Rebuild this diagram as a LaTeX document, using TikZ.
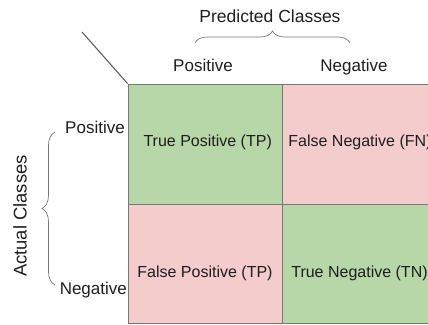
\documentclass[tikz,border=0pt]{standalone}
\usepackage{fontspec}
\setmainfont{Liberation Sans}
\usetikzlibrary{calc,decorations.pathreplacing}
\definecolor{CellGreen}{RGB}{183,215,168}
\definecolor{CellRed}{RGB}{244,204,204}
\definecolor{Grid}{RGB}{120,120,120}
\definecolor{Ink}{RGB}{30,30,30}
\tikzset{
  cell/.style={rectangle,draw=Grid,line width=0.9pt,minimum width=154pt,
               minimum height=120pt,inner sep=0pt},
  cgood/.style={cell,fill=CellGreen},
  cbad/.style={cell,fill=CellRed},
  ctext/.style={anchor=base,text=Ink,font=\fontsize{16}{18}\selectfont,inner sep=0pt},
  hlabel/.style={anchor=base,text=Ink,font=\fontsize{17}{19}\selectfont,inner sep=0pt},
  cbrace/.style={decorate,decoration={brace,amplitude=#1},draw=Grid,line width=0.7pt},
}
\begin{document}
\begin{tikzpicture}[x=1pt,y=-1pt]
    \useasboundingbox (0,0) rectangle (428,324);
    % confusion matrix cells
    \node[cgood] (tp) at (205,144) {};
    \node[cbad]  (fn) at (359,144) {};
    \node[cbad]  (fp) at (205,263.5) [minimum height=119pt] {};
    \node[cgood] (tn) at (359,263.5) [minimum height=119pt] {};
    \node[ctext] (tptxt) at (207.7,146.7) {True Positive (TP)};
    \node[ctext] (fntxt) at (360,146.7) {False Negative (FN)};
    \node[ctext] (fptxt) at (205,277.7) {False Positive (TP)};
    \node[ctext] (tntxt) at (359.5,277.7) {True Negative (TN)};
    % corner
    \coordinate (corner) at (82,32);
    \draw[Grid!80!black,line width=1.1pt] (tp.north west) -- (corner);
    % predicted
    \node[hlabel] (ppos) at (203,71) {Positive};
    \node[hlabel] (pneg) at (354,71) {Negative};
    \coordinate (pb1) at (195,43);
    \coordinate (pb2) at (350,43);
    \draw[cbrace=12pt] (pb1) -- (pb2);
    \node[anchor=base,text=Ink,font=\fontsize{17.5}{20}\selectfont,inner sep=0pt]
      (pred) at (270,22.3) {Predicted Classes};
    % actual
    \node[hlabel] (apos) at (95,133.3) {Positive};
    \node[hlabel] (aneg) at (93.3,294.3) {Negative};
    \coordinate (ab1) at (55,285);
    \coordinate (ab2) at (55,132);
    \draw[cbrace=13pt] (ab1) -- (ab2);
    \node[anchor=base,rotate=90,text=Ink,font=\fontsize{18.4}{21}\selectfont,inner sep=0pt]
      (act) at (26.7,216) {Actual Classes};
\end{tikzpicture}
\end{document}
